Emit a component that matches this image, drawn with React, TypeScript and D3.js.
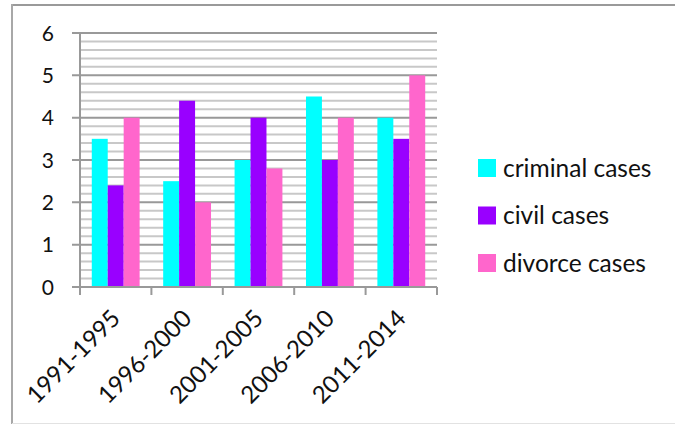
import React from "react";
import * as d3 from "d3";

const periods = ["1991-1995", "1996-2000", "2001-2005", "2006-2010", "2011-2014"];
const seriesNames = ["criminal cases", "civil cases", "divorce cases"];
const criminal = [3.5, 2.5, 3, 4.5, 4];
const civil = [2.4, 4.4, 4, 3, 3.5];
const divorce = [4, 2, 2.8, 4, 5];
const yTicks = [0, 1, 2, 3, 4, 5, 6];
const colors = ["#00FFFF", "#9900FF", "#FF66CC"];

const W = 675;
const H = 425;
const plot = { left: 80, right: 437, top: 33, bottom: 287 };
const FONT = "Lato, 'Open Sans', sans-serif";

export default function App() {
  const values = [criminal, civil, divorce];
  const x = d3
    .scaleBand<string>()
    .domain(periods)
    .range([plot.left, plot.right])
    .paddingInner(0.33)
    .paddingOuter(0.165);
  const x1 = d3.scaleBand<number>().domain([0, 1, 2]).range([0, x.bandwidth()]);
  const y = d3.scaleLinear().domain([0, 6]).range([plot.bottom, plot.top]);
  const minor = d3.range(0, 30).map((i) => i / 5).filter((v) => v % 1 !== 0);
  const step = (plot.right - plot.left) / periods.length;
  const boundaries = d3.range(periods.length + 1).map((i) => plot.left + i * step);

  return (
    <svg
      width={W}
      height={H}
      style={{ position: "absolute", left: 0, top: 0, background: "#fff" }}
    >
      {/* chart frame */}
      <line x1={12} y1={5} x2={W} y2={5} stroke="#9a9a9a" strokeWidth={2} />
      <line x1={12} y1={4} x2={12} y2={424} stroke="#a8a8a8" strokeWidth={2} />
      <line x1={12} y1={423.5} x2={W} y2={423.5} stroke="#e2e2e2" strokeWidth={1} />

      {/* minor gridlines */}
      {minor.map((v) => (
        <line
          key={"m" + v}
          x1={plot.left}
          x2={plot.right}
          y1={y(v)}
          y2={y(v)}
          stroke="#c8c8c8"
          strokeWidth={2}
        />
      ))}
      {/* major gridlines and y ticks */}
      {yTicks.map((v) => (
        <g key={"t" + v}>
          <line x1={72} x2={plot.right} y1={y(v)} y2={y(v)} stroke="#999" strokeWidth={2} />
          <text
            x={54}
            y={y(v)}
            dy="0.36em"
            textAnchor="end"
            fontFamily={FONT}
            fontSize={21}
            fill="#111"
          >
            {v}
          </text>
        </g>
      ))}

      {/* bars */}
      {periods.map((p, i) => (
        <g key={p} transform={`translate(${x(p)},0)`}>
          {values.map((s, j) => (
            <rect
              key={j}
              x={x1(j)}
              y={y(s[i])}
              width={x1.bandwidth()}
              height={y(0) - y(s[i])}
              fill={colors[j]}
            />
          ))}
        </g>
      ))}

      {/* axes */}
      <line x1={plot.left} x2={plot.left} y1={plot.top} y2={plot.bottom} stroke="#999" strokeWidth={2} />
      <line x1={72} x2={plot.right} y1={plot.bottom} y2={plot.bottom} stroke="#999" strokeWidth={2} />
      {boundaries.map((bx, i) => (
        <line key={"b" + i} x1={bx} x2={bx} y1={plot.bottom} y2={plot.bottom + 8} stroke="#999" strokeWidth={2} />
      ))}

      {/* category labels */}
      {periods.map((p) => {
        const cx = (x(p) as number) + x.bandwidth() / 2 + 6;
        const cy = plot.bottom + 33;
        return (
          <text
            key={"l" + p}
            x={cx}
            y={cy}
            transform={`rotate(-45,${cx},${cy})`}
            textAnchor="end"
            fontFamily={FONT}
            fontSize={24}
            fill="#111"
          >
            {p}
          </text>
        );
      })}

      {/* legend */}
      {seriesNames.map((n, j) => {
        const ly = 168 + j * 47.5;
        return (
          <g key={n}>
            <rect x={478} y={ly - 9} width={18} height={18} fill={colors[j]} />
            <text x={503} y={ly} dy="0.36em" fontFamily={FONT} fontSize={24.5} fill="#111">
              {n}
            </text>
          </g>
        );
      })}
    </svg>
  );
}
